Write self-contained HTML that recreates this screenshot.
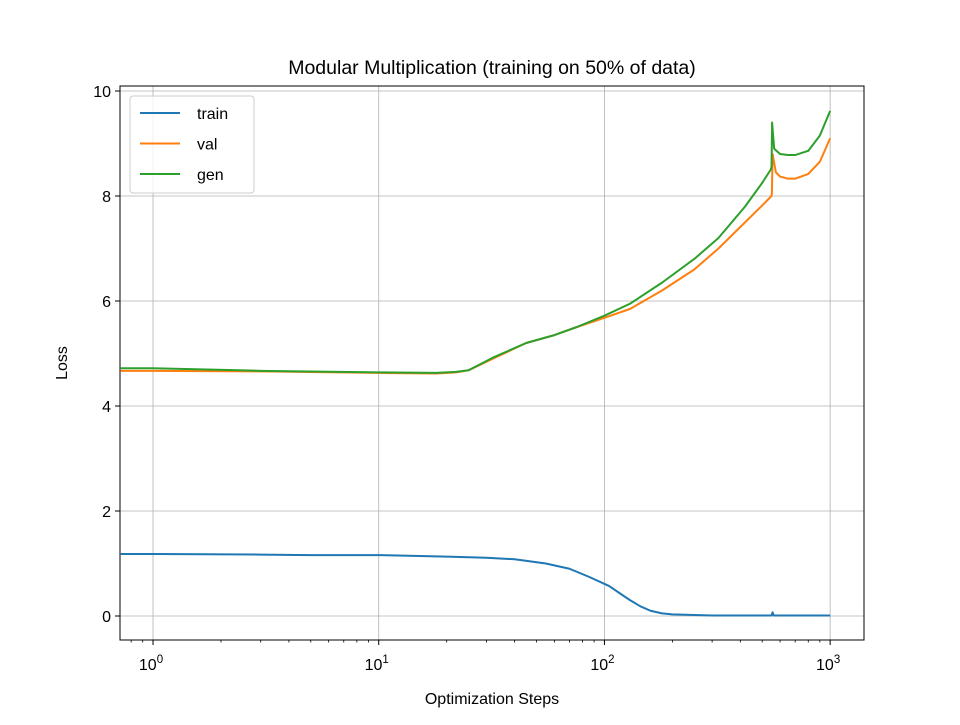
<!DOCTYPE html>
<html><head><meta charset="utf-8"><style>
body{margin:0;background:#fff}
svg{font-family:"Liberation Sans","DejaVu Sans",sans-serif}
</style></head><body>
<svg id="chart" width="960" height="720" xmlns="http://www.w3.org/2000/svg"></svg>
<script>
const xTicks=[1,10,100,1000];
const xTickExp=["0","1","2","3"];
const yTicks=[0,2,4,6,8,10];
const trainSteps=[0.72,1,3,5,10,20,30,40,55,70,85,105,120,130,145,160,180,200,300,550,556,562,700,1000];
const trainLoss=[1.18,1.18,1.17,1.16,1.16,1.13,1.11,1.08,1.0,0.9,0.75,0.57,0.4,0.3,0.18,0.1,0.05,0.03,0.01,0.01,0.07,0.01,0.01,0.01];
const valSteps=[0.72,1,3,10,18,22,25,32,45,60,75,100,130,180,250,320,420,500,550,552,556,575,600,650,700,800,900,1000];
const valLoss=[4.67,4.67,4.66,4.63,4.62,4.64,4.68,4.9,5.2,5.35,5.5,5.68,5.85,6.2,6.6,7.0,7.5,7.82,8.0,8.05,8.8,8.45,8.37,8.33,8.33,8.42,8.65,9.1];
const genSteps=[0.72,1,3,10,18,22,25,32,45,60,75,100,130,180,250,320,420,500,545,550,553,565,600,650,700,800,900,1000];
const genLoss=[4.72,4.72,4.67,4.64,4.63,4.65,4.68,4.92,5.2,5.35,5.5,5.72,5.95,6.35,6.8,7.2,7.8,8.25,8.5,8.55,9.4,8.9,8.8,8.78,8.78,8.86,9.15,9.62];

const L=120,R=864,T=86,B=640;
const xMin=Math.log10(0.714),xMax=3.15,yMin=-0.457,yMax=10.095;
const sx=v=>L+(Math.log10(v)-xMin)/(xMax-xMin)*(R-L);
const sy=v=>B-(v-yMin)/(yMax-yMin)*(B-T);
const svg=document.getElementById('chart');
const NS="http://www.w3.org/2000/svg";
function mk(tag,attrs,parent){const e=document.createElementNS(NS,tag);for(const k in attrs)e.setAttribute(k,attrs[k]);(parent||svg).appendChild(e);return e;}

xTicks.forEach(v=>{const g=mk('line',{x1:sx(v),x2:sx(v),y1:T,y2:B,stroke:'#b0b0b0','stroke-width':0.8});

});
yTicks.forEach(v=>{const g=mk('line',{x1:L,x2:R,y1:sy(v),y2:sy(v),stroke:'#b0b0b0','stroke-width':0.8});

});

function series(xs,ys,color,name){
  const d=xs.map((x,i)=>(i?'L':'M')+sx(x).toFixed(2)+','+sy(ys[i]).toFixed(2)).join(' ');
  const p=mk('path',{d:d,fill:'none',stroke:color,'stroke-width':2,'stroke-linejoin':'round'});
  
  
}
series(trainSteps,trainLoss,'#1f77b4','train-line');
series(valSteps,valLoss,'#ff7f0e','val-line');
series(genSteps,genLoss,'#2ca02c','gen-line');

const fr=mk('rect',{x:L,y:T,width:R-L,height:B-T,fill:'none',stroke:'#000','stroke-width':1});



xTicks.forEach((v,i)=>{
  mk('line',{x1:sx(v),x2:sx(v),y1:B,y2:B+5,stroke:'#000','stroke-width':1});
  const t=mk('text',{x:sx(v)-2,y:B+30,'font-size':16,'text-anchor':'middle'});
  
  
  t.textContent='10';
  const s=mk('tspan',{dy:-7,'font-size':11.5},t);s.textContent=xTickExp[i];
});
for(let d=-1;d<=3;d++)for(let m=2;m<=9;m++){const v=m*Math.pow(10,d);const lv=Math.log10(v);if(lv<xMin||lv>xMax)continue;
  mk('line',{x1:sx(v),x2:sx(v),y1:B,y2:B+2.5,stroke:'#000','stroke-width':0.8});}
yTicks.forEach(v=>{
  mk('line',{x1:L-5,x2:L,y1:sy(v),y2:sy(v),stroke:'#000','stroke-width':1});
  const t=mk('text',{x:L-9,y:sy(v)+6,'font-size':16,'text-anchor':'end'});
  
  
  t.textContent=v;
});
let t=mk('text',{x:492,y:74,'font-size':19.5,'text-anchor':'middle'});t.textContent='Modular Multiplication (training on 50% of data)';


t=mk('text',{x:492,y:704,'font-size':16,'text-anchor':'middle'});t.textContent='Optimization Steps';


t=mk('text',{x:67,y:363,'font-size':16,'text-anchor':'middle',transform:'rotate(-90 67 363)'});t.textContent='Loss';



const lg=mk('g',{});


mk('rect',{x:130,y:96,width:124,height:97,rx:3,fill:'#fff','fill-opacity':0.8,stroke:'#ccc'},lg);
[['train','#1f77b4'],['val','#ff7f0e'],['gen','#2ca02c']].forEach((e,i)=>{
  const y=113+i*30.5;
  const g=mk('g',{},lg);
  
  
  mk('line',{x1:140,x2:180,y1:y,y2:y,stroke:e[1],'stroke-width':2},g);
  const tx=mk('text',{x:197,y:y+6,'font-size':16},g);tx.textContent=e[0];
});
</script>
</body></html>
